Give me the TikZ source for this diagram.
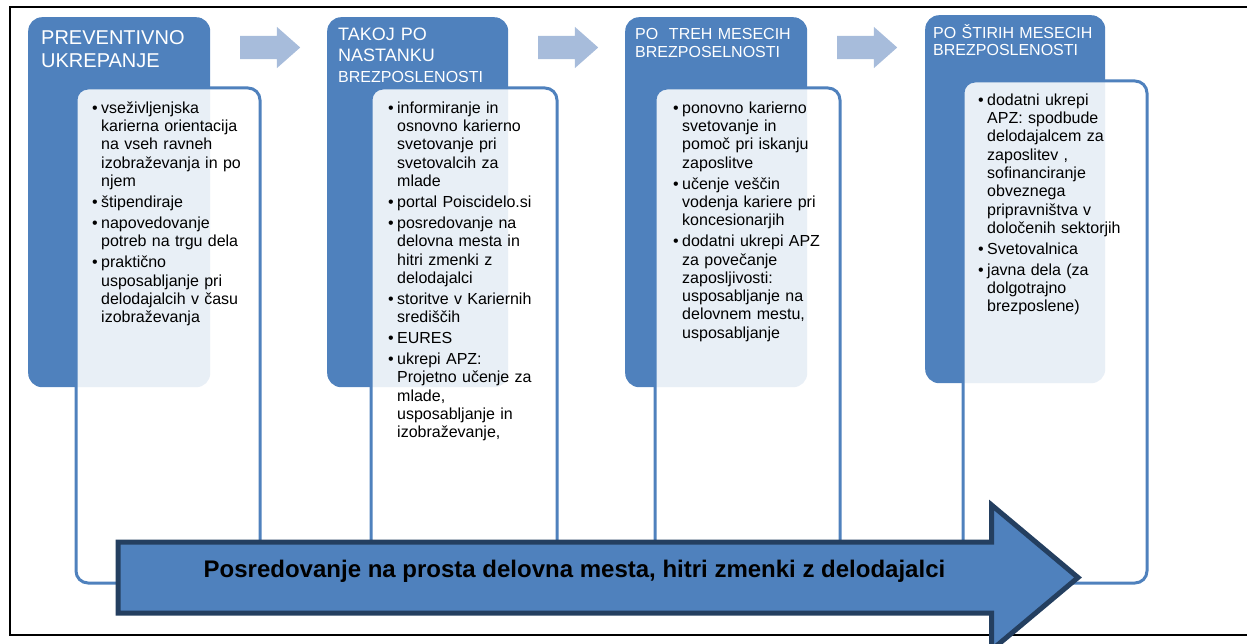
\documentclass[tikz,border=0pt]{standalone}
\usepackage{fontspec}
\setmainfont{Liberation Sans}
\usetikzlibrary{shapes.arrows}

\definecolor{stageblue}{HTML}{4F81BD}
\definecolor{steplight}{HTML}{A7BCDB}
\definecolor{bandedge}{HTML}{243F60}

\newcommand{\lineitem}[1]{\hangindent=9pt\hangafter=1\noindent\parskip=2.7pt\relax
  \hbox to 9pt{\textbullet\hfil}{\let\\\newline #1}\par}

\tikzset{
  stagebox/.style={fill=stageblue, rounded corners=14pt, inner sep=0pt, anchor=north west},
  listbox/.style={draw=stageblue, line width=3pt, fill=white, fill opacity=0.875,
    rounded corners=12pt, inner sep=0pt, anchor=north west},
  headtext/.style={text=white, text width=175pt, align=left, inner sep=0pt, anchor=north west},
  listtext/.style={text width=172pt, align=left, inner sep=0pt, anchor=north west,
    font=\fontsize{16}{18.3}\selectfont},
  nextarrow/.style={single arrow, fill=steplight, inner xsep=0pt, inner ysep=11.5pt,
    minimum height=60pt, minimum width=41pt, single arrow head extend=9pt,
    single arrow tip angle=83, anchor=tail},
  bandarrow/.style={single arrow, fill=stageblue, draw=bandedge, line width=5pt,
    inner xsep=0pt, inner ysep=33pt, minimum height=960pt, minimum width=140pt,
    single arrow head extend=37pt, single arrow tip angle=80, anchor=tail}
}

\begin{document}
\begin{tikzpicture}[x=1pt, y=-1pt]
  \useasboundingbox (0,0) rectangle (1247,644);
  \draw[line width=2.5pt] (10,7) rectangle (1262,635);

  \node[stagebox, minimum width=182pt, minimum height=370pt] (s1) at (28,17) {};
  \node[stagebox, minimum width=181pt, minimum height=370pt] (s2) at (327,17) {};
  \node[stagebox, minimum width=182pt, minimum height=370pt] (s3) at (625,17) {};
  \node[stagebox, minimum width=180pt, minimum height=368pt] (s4) at (925,15) {};

  \node[listbox, minimum width=184pt, minimum height=495pt] (w1) at (74.5,86.5) {};
  \node[listbox, minimum width=186pt, minimum height=495pt] (w2) at (369.5,86.5) {};
  \node[listbox, minimum width=185pt, minimum height=495pt] (w3) at (653.5,86.5) {};
  \node[listbox, minimum width=184pt, minimum height=502pt] (w4) at (961.5,79.5) {};

  \node[nextarrow] (a1) at (240,47.5) {};
  \node[nextarrow] (a2) at (538,47.5) {};
  \node[nextarrow] (a3) at (837,47.5) {};

  \node[headtext, font=\fontsize{20}{23}\selectfont] (h1) at (41,30)
    {PREVENTIVNO\\UKREPANJE};
  \node[headtext, font=\fontsize{18}{21}\selectfont] (h2) at (338,28)
    {TAKOJ PO\\NASTANKU\\\fontsize{16}{18}\selectfont BREZPOSLENOSTI};
  \node[headtext, font=\fontsize{16}{18}\selectfont] (h3) at (635,28)
    {PO~ TREH MESECIH\\BREZPOSELNOSTI};
  \node[headtext, font=\fontsize{16}{17}\selectfont] (h4) at (933,24)
    {PO ŠTIRIH MESECIH\\BREZPOSLENOSTI};

  \node[listtext] (l1) at (92,101.5) {%
    \lineitem{vseživljenjska\\karierna orientacija\\na vseh ravneh\\izobraževanja in po\\njem}
    \lineitem{štipendiraje}
    \lineitem{napovedovanje\\potreb na trgu dela}
    \lineitem{praktično\\usposabljanje pri\\delodajalcih v času\\izobraževanja}};
  \node[listtext] (l2) at (388,101.5) {%
    \lineitem{informiranje in\\osnovno karierno\\svetovanje pri\\svetovalcih za\\mlade}
    \lineitem{portal Poiscidelo.si}
    \lineitem{posredovanje na\\delovna mesta in\\hitri zmenki z\\delodajalci}
    \lineitem{storitve v Kariernih\\središčih}
    \lineitem{EURES}
    \lineitem{ukrepi APZ:\\Projetno učenje za\\mlade,\\usposabljanje in\\izobraževanje,}};
  \node[listtext] (l3) at (673,101.5) {%
    \lineitem{ponovno karierno\\svetovanje in\\pomoč pri iskanju\\zaposlitve}
    \lineitem{učenje veščin\\vodenja kariere pri\\koncesionarjih}
    \lineitem{dodatni ukrepi APZ\\za povečanje\\zaposljivosti:\\usposabljanje na\\delovnem mestu,\\usposabljanje}};
  \node[listtext] (l4) at (978,93.5) {%
    \lineitem{dodatni ukrepi\\APZ: spodbude\\delodajalcem za\\zaposlitev ,\\sofinanciranje\\obveznega\\pripravništva v\\določenih sektorjih}
    \lineitem{Svetovalnica}
    \lineitem{javna dela (za\\dolgotrajno\\brezposlene)}};

  \node[bandarrow] (band) at (115.5,577.5) {};
  \node[font=\bfseries\fontsize{24}{28}\selectfont, inner sep=0pt, anchor=base] (bandtext)
    at (574.5,577) {Posredovanje na prosta delovna mesta, hitri zmenki z delodajalci};
\end{tikzpicture}
\end{document}
